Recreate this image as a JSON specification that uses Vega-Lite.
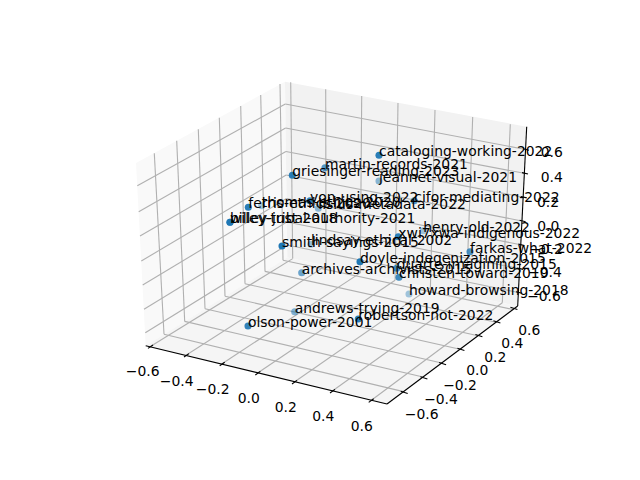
{"$schema":"https://vega.github.io/schema/vega-lite/v6.json","width":640,"height":480,"padding":0,"autosize":"none","background":"white","view":{"stroke":null},
"datasets":{
"panes":[
{"pane":"left","o":1,"x":145.7,"y":345.7},{"pane":"left","o":2,"x":287.3,"y":257.5},{"pane":"left","o":3,"x":285,"y":81.7},{"pane":"left","o":4,"x":136,"y":163},{"pane":"left","o":5,"x":145.7,"y":345.7},
{"pane":"back","o":1,"x":287.3,"y":257.5},{"pane":"back","o":2,"x":517.7,"y":306},{"pane":"back","o":3,"x":526.7,"y":126.7},{"pane":"back","o":4,"x":285,"y":81.7},{"pane":"back","o":5,"x":287.3,"y":257.5},
{"pane":"floor","o":1,"x":145.7,"y":345.7},{"pane":"floor","o":2,"x":387,"y":404},{"pane":"floor","o":3,"x":517.7,"y":306},{"pane":"floor","o":4,"x":287.3,"y":257.5},{"pane":"floor","o":5,"x":145.7,"y":345.7}],
"grid":[
{"x":154.3,"y":153.3,"x2":164,"y2":334.3},{"x":176.7,"y":140.7,"x2":184.7,"y2":321.4},{"x":198.3,"y":129.3,"x2":205,"y2":308.8},{"x":219.3,"y":117.7,"x2":225,"y2":296.3},{"x":240.7,"y":106,"x2":245,"y2":283.8},{"x":260.7,"y":95,"x2":265,"y2":271.4},{"x":280,"y":84,"x2":283,"y2":260.2},
{"x":137.3,"y":185.7,"x2":285.3,"y2":104},{"x":138.7,"y":211.7,"x2":285.6,"y2":128},{"x":140,"y":236,"x2":285.9,"y2":151.5},{"x":141.3,"y":261,"x2":286.2,"y2":175},{"x":142.7,"y":285,"x2":286.5,"y2":198.5},{"x":144,"y":309.3,"x2":286.8,"y2":222},{"x":145.3,"y":332.7,"x2":287.1,"y2":245},
{"x":290.7,"y":82.3,"x2":292.7,"y2":258.6},{"x":325.7,"y":89.3,"x2":326,"y2":265.6},{"x":361.7,"y":96,"x2":360.3,"y2":272.9},{"x":398,"y":103,"x2":395.1,"y2":280.2},{"x":435,"y":110,"x2":430.4,"y2":287.6},{"x":472.7,"y":117,"x2":466.3,"y2":295.2},{"x":510.3,"y":124.3,"x2":502.3,"y2":302.8},
{"x":285.3,"y":104,"x2":525.6,"y2":149.5},{"x":285.6,"y":128,"x2":524.4,"y2":173.3},{"x":285.9,"y":151.5,"x2":523.2,"y2":197.2},{"x":286.2,"y":175,"x2":522,"y2":221},{"x":286.5,"y":198.5,"x2":520.8,"y2":244.8},{"x":286.8,"y":222,"x2":519.6,"y2":268.7},{"x":287.1,"y":245,"x2":518.4,"y2":292.5},
{"x":292.7,"y":258.6,"x2":150,"y2":346.7},{"x":326,"y":265.6,"x2":186,"y2":355.3},{"x":360.3,"y":272.9,"x2":221.7,"y2":364},{"x":395.1,"y":280.2,"x2":257.3,"y2":373.3},{"x":430.4,"y":287.6,"x2":294,"y2":382.3},{"x":466.3,"y":295.2,"x2":332,"y2":391.3},{"x":502.3,"y":302.8,"x2":370.7,"y2":400.7},
{"x":164,"y":334.3,"x2":403.5,"y2":391.6},{"x":184.7,"y":321.4,"x2":423,"y2":377},{"x":205,"y":308.8,"x2":441.7,"y2":363},{"x":225,"y":296.3,"x2":460,"y2":349.3},{"x":245,"y":283.8,"x2":478,"y2":335.8},{"x":265,"y":271.4,"x2":496,"y2":322.2},{"x":283,"y":260.2,"x2":513,"y2":309.5}],
"axes":[
{"x":145.7,"y":345.7,"x2":387,"y2":404},{"x":387,"y":404,"x2":517.7,"y2":306},{"x":517.7,"y":306,"x2":526.7,"y2":126.7},
{"x":148,"y":348.4,"x2":153,"y2":345},{"x":184,"y":357,"x2":189,"y2":353.6},{"x":219.7,"y":365.8,"x2":224.7,"y2":362.2},{"x":255.3,"y":375,"x2":260.3,"y2":371.4},{"x":292,"y":384,"x2":297,"y2":380.4},{"x":330,"y":393,"x2":335,"y2":389.4},{"x":368.7,"y":402.4,"x2":373.7,"y2":398.8},
{"x":400.7,"y":391.2,"x2":407.7,"y2":393.4},{"x":420.4,"y":376.8,"x2":427.4,"y2":379},{"x":439.1,"y":362.6,"x2":446.1,"y2":364.8},{"x":457.4,"y":348.3,"x2":464.4,"y2":350.5},{"x":475.4,"y":334.6,"x2":482.4,"y2":336.8},{"x":493.4,"y":320.7,"x2":500.4,"y2":322.9},{"x":510.4,"y":307.3,"x2":517.4,"y2":309.5},
{"x":523,"y":148.8,"x2":529,"y2":150.2},{"x":522,"y":172.6,"x2":528,"y2":174},{"x":520.8,"y":196.5,"x2":526.8,"y2":197.9},{"x":519.6,"y":220.3,"x2":525.6,"y2":221.7},{"x":518.4,"y":244.1,"x2":524.4,"y2":245.5},{"x":517.2,"y":268,"x2":523.2,"y2":269.4},{"x":516,"y":291.8,"x2":522,"y2":293.2}],
"ticks":[
{"t":"−0.6","x":142.7,"y":372},{"t":"−0.4","x":176.7,"y":381.7},{"t":"−0.2","x":212.7,"y":390},{"t":"0.0","x":248.7,"y":399},{"t":"0.2","x":285.7,"y":408.3},{"t":"0.4","x":323.3,"y":417.3},{"t":"0.6","x":361.7,"y":426.7},
{"t":"−0.6","x":421.7,"y":414.7},{"t":"−0.4","x":441,"y":400},{"t":"−0.2","x":460,"y":386},{"t":"0.0","x":477.3,"y":371},{"t":"0.2","x":495.3,"y":358},{"t":"0.4","x":512.3,"y":344},{"t":"0.6","x":529.3,"y":331},
{"t":"−0.6","x":544,"y":296.7},{"t":"−0.4","x":545,"y":273.3},{"t":"−0.2","x":546,"y":250},{"t":"0.0","x":548.3,"y":226.7},{"t":"0.2","x":548,"y":202.7},{"t":"0.4","x":551.7,"y":178.3},{"t":"0.6","x":551.7,"y":153.3}],
"pts":[
{"label":"cataloging-working-2022","x":379,"y":155.3,"depth":0.95},
{"label":"martin-records-2021","x":325,"y":167.7,"depth":0.75},
{"label":"griesinger-reading-2023","x":292.3,"y":175.3,"depth":0.95},
{"label":"jeannet-visual-2021","x":379,"y":181,"depth":0.5},
{"label":"cifor-mediating-2022","x":414.3,"y":200.7,"depth":0.75},
{"label":"von-using-2022","x":310,"y":200.7,"depth":0.9},
{"label":"lisius-metadata-2022","x":318.3,"y":208.3,"depth":0.5},
{"label":"thomas-ethics-2020","x":261.7,"y":205.7,"depth":0.4},
{"label":"ferris-ethics-2020","x":248.3,"y":207.3,"depth":0.95},
{"label":"billey-just-2018","x":230,"y":222.3,"depth":0.95},
{"label":"wiley-tribal-authority-2021","x":230,"y":222.3,"depth":0.95},
{"label":"smith-sayings-2015","x":282,"y":246,"depth":1},
{"label":"lindsay-ethical-2002","x":311,"y":244.3,"depth":0.45},
{"label":"xwi7xwa-indigenous-2022","x":398.3,"y":236.7,"depth":0.95},
{"label":"henry-old-2022","x":423.3,"y":230.7,"depth":0.4},
{"label":"farkas-what-2022","x":470,"y":251.7,"depth":0.8},
{"label":"doyle-indegenization-2015","x":360,"y":261.7,"depth":1},
{"label":"archives-archivists-2015","x":301.7,"y":272.7,"depth":0.65},
{"label":"duarte-imagining-2015","x":396.7,"y":268.3,"depth":0.8},
{"label":"christen-toward-2019","x":399,"y":277.3,"depth":0.85},
{"label":"howard-browsing-2018","x":409,"y":294,"depth":0.4},
{"label":"andrews-trying-2019","x":294.7,"y":311.7,"depth":0.55},
{"label":"robertson-not-2022","x":358.3,"y":319,"depth":0.95},
{"label":"olson-power-2001","x":248,"y":326,"depth":0.9}]},
"layer":[
{"data":{"name":"panes"},"mark":{"type":"line","filled":true,"strokeWidth":0},"encoding":{"x":{"field":"x","type":"quantitative","scale":{"domain":[0,640],"nice":false,"zero":false},"axis":null},"y":{"field":"y","type":"quantitative","scale":{"domain":[480,0],"nice":false,"zero":false},"axis":null},"order":{"field":"o"},"detail":{"field":"pane"},"fill":{"field":"pane","type":"nominal","scale":{"domain":["left","back","floor"],"range":["#f9f9f9","#f2f2f2","#f5f5f5"]},"legend":null}}},
{"data":{"name":"grid"},"mark":{"type":"rule","color":"#b0b0b0","strokeWidth":1.1},"encoding":{"x":{"field":"x","type":"quantitative"},"y":{"field":"y","type":"quantitative"},"x2":{"field":"x2"},"y2":{"field":"y2"}}},
{"data":{"name":"axes"},"mark":{"type":"rule","color":"#000000","strokeWidth":1.1},"encoding":{"x":{"field":"x","type":"quantitative"},"y":{"field":"y","type":"quantitative"},"x2":{"field":"x2"},"y2":{"field":"y2"}}},
{"data":{"name":"ticks"},"mark":{"type":"text","font":"DejaVu Sans","fontSize":13.9,"align":"center","baseline":"middle","color":"#000000"},"encoding":{"x":{"field":"x","type":"quantitative"},"y":{"field":"y","type":"quantitative"},"text":{"field":"t"}}},
{"data":{"name":"pts"},"mark":{"type":"point","filled":true,"size":50,"color":"#1f77b4","strokeWidth":0},"encoding":{"x":{"field":"x","type":"quantitative"},"y":{"field":"y","type":"quantitative"},"opacity":{"field":"depth","type":"quantitative","scale":{"domain":[0,1],"range":[0,1]},"legend":null}}},
{"data":{"name":"pts"},"mark":{"type":"text","font":"DejaVu Sans","fontSize":13.9,"align":"left","baseline":"alphabetic","dy":1,"color":"#000000"},"encoding":{"x":{"field":"x","type":"quantitative"},"y":{"field":"y","type":"quantitative"},"text":{"field":"label"}}}
]}
